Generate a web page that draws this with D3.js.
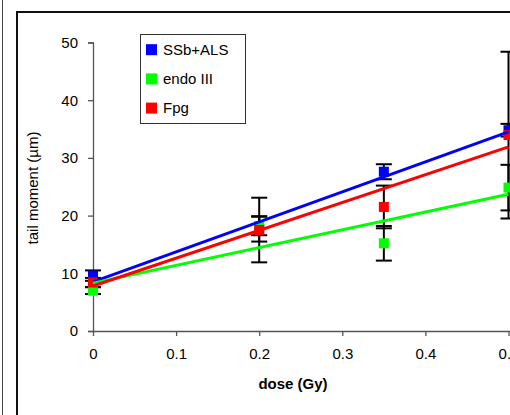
<!DOCTYPE html>
<html>
<head>
<meta charset="utf-8">
<script src="https://cdn.jsdelivr.net/npm/d3@7"></script>
<style>
  body { margin: 0; background: #fff; }
  svg { display: block; font-family: "Liberation Sans", Arial, sans-serif; }
</style>
</head>
<body>
<div id="chart"></div>
<script>
// data
var doses = [0, 0.2, 0.35, 0.5];
var seriesNames = ["SSb+ALS", "endo III", "Fpg"];
var seriesColors = ["#0000ff", "#00ff00", "#ff0000"];
var ssbValues = [9.6, 17.7, 27.6, 34.8];
var ssbErrors = [0.9, 2.2, 1.3, 1.1];
var endoValues = [7.0, 18.2, 15.2, 24.85];
var endoErrors = [0.6, 1.6, 3.0, 3.95];
var fpgValues = [8.4, 17.5, 21.5, 33.95];
var fpgErrors = [0.8, 5.6, 3.7, 14.45];
// linear trend lines: value at dose 0 and at dose 0.5
var trendStart = [8.5, 8.3, 7.8];
var trendEnd = [34.5, 23.7, 31.9];
var xTicks = [0, 0.1, 0.2, 0.3, 0.4, 0.5];
var yTicks = [0, 10, 20, 30, 40, 50];

var values = [ssbValues, endoValues, fpgValues];
var errors = [ssbErrors, endoErrors, fpgErrors];

var width = 510, height = 415;
var fontSize = "15px";

var svg = d3.select("#chart").append("svg")
  .attr("width", width)
  .attr("height", height);

// outer frame bits
svg.append("line")
  .attr("x1", 2.5).attr("x2", 2.5).attr("y1", 0).attr("y2", height)
  .attr("stroke", "#444").attr("stroke-width", 1);
svg.append("rect")
  .attr("x", 17).attr("y", 12)
  .attr("width", 700).attr("height", 700)
  .attr("fill", "none").attr("stroke", "#111").attr("stroke-width", 2);

var x = d3.scaleLinear().domain([0, 0.5]).range([93, 508.5]);
var y = d3.scaleLinear().domain([0, 50]).range([331, 42.5]);

// axes
var xAxis = svg.append("g")
  .attr("transform", "translate(0,331)")
  .call(d3.axisBottom(x).tickValues(xTicks).tickSize(5).tickPadding(12)
    .tickFormat(function (d) { return d === 0 ? "0" : d3.format(".1f")(d); }));
var yAxis = svg.append("g")
  .attr("transform", "translate(93,0)")
  .call(d3.axisLeft(y).tickValues(yTicks).tickSize(5).tickPadding(10));

[xAxis, yAxis].forEach(function (g) {
  g.select(".domain").attr("stroke", "#555").attr("stroke-width", 1.3);
  g.selectAll(".tick line").attr("stroke", "#555").attr("stroke-width", 1.3);
  g.selectAll(".tick text")
    .attr("fill", "#000")
    .style("font-size", fontSize)
    .style("font-family", "Liberation Sans, Arial, sans-serif");
});
xAxis.select(".domain").attr("d", "M93,0.5H520");

// axis titles
svg.append("text")
  .attr("x", 293).attr("y", 389)
  .attr("text-anchor", "middle")
  .style("font-size", fontSize).style("font-weight", "bold")
  .text("dose (Gy)");
svg.append("text")
  .attr("transform", "translate(38,188) rotate(-90)")
  .attr("text-anchor", "middle")
  .style("font-size", fontSize)
  .text("tail moment (µm)");

// error bars
var capW = 8;
values.forEach(function (vals, s) {
  var g = svg.append("g");
  vals.forEach(function (v, i) {
    var cx = x(doses[i]);
    var hi = y(v + errors[s][i]), lo = y(v - errors[s][i]);
    g.append("line").attr("x1", cx).attr("x2", cx).attr("y1", hi).attr("y2", lo)
      .attr("stroke", "#000").attr("stroke-width", 2);
    [hi, lo].forEach(function (yy) {
      g.append("line").attr("x1", cx - capW).attr("x2", cx + capW)
        .attr("y1", yy).attr("y2", yy)
        .attr("stroke", "#000").attr("stroke-width", 2);
    });
  });
});

// markers
var ms = 10;
values.forEach(function (vals, s) {
  svg.append("g").selectAll("rect")
    .data(vals)
    .enter()
    .append("rect")
    .attr("x", function (d, i) { return x(doses[i]) - ms / 2; })
    .attr("y", function (d) { return y(d) - ms / 2; })
    .attr("width", ms).attr("height", ms)
    .attr("fill", seriesColors[s]);
});

// trend lines
trendStart.forEach(function (v, s) {
  svg.append("line")
    .attr("x1", x(0)).attr("y1", y(v))
    .attr("x2", x(0.5)).attr("y2", y(trendEnd[s]))
    .attr("stroke", seriesColors[s]).attr("stroke-width", 3);
});

// legend
var legend = svg.append("g").attr("transform", "translate(140,34)");
legend.append("rect")
  .attr("x", 0.5).attr("y", 0.5).attr("width", 105).attr("height", 89)
  .attr("fill", "#fff").attr("stroke", "#333").attr("stroke-width", 1);
seriesNames.forEach(function (name, i) {
  var yy = 15.7 + i * 29.2;
  legend.append("rect")
    .attr("x", 6).attr("y", yy - 5.5).attr("width", 11).attr("height", 11)
    .attr("fill", seriesColors[i]);
  legend.append("text")
    .attr("x", 23).attr("y", yy + 5)
    .style("font-size", fontSize)
    .text(name);
});
</script>
</body>
</html>
